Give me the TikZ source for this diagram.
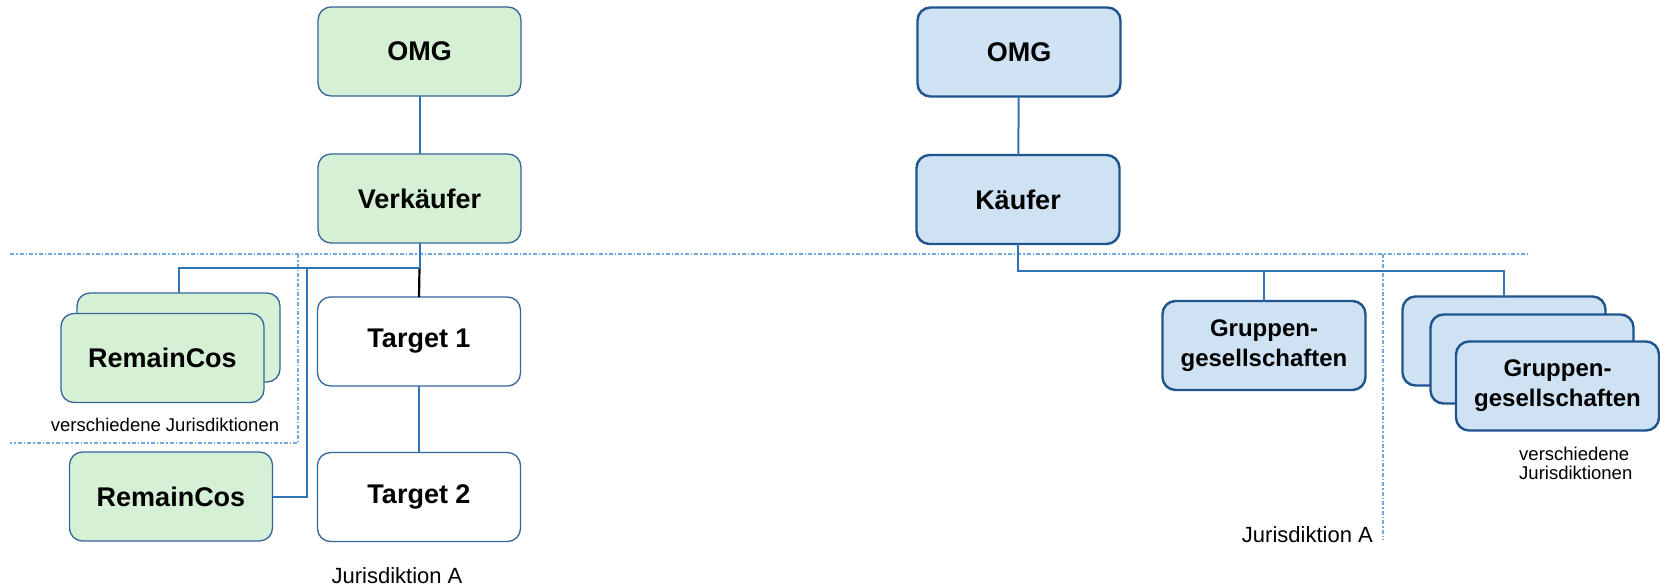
\documentclass[tikz,border=0pt]{standalone}
\usepackage{fontspec}
\setmainfont{Liberation Sans}
\definecolor{greenfill}{RGB}{213,240,213}
\definecolor{greenline}{RGB}{52,101,155}
\definecolor{bluefill}{RGB}{207,226,243}
\definecolor{blueline}{RGB}{31,84,140}
\definecolor{connblue}{RGB}{46,117,182}
\definecolor{zoneblue}{RGB}{111,168,220}
\begin{document}
\begin{tikzpicture}[x=1pt,y=-1pt,
  box/.style={rounded corners=13pt, minimum width=203pt, minimum height=89pt,
    inner sep=0pt, outer sep=0pt, align=center,
    font=\bfseries\fontsize{27}{32}\selectfont},
  greenbox/.style={box, fill=greenfill, draw=greenline, line width=1.3pt},
  whitebox/.style={box, fill=white, draw=greenline, line width=1.3pt},
  bluebox/.style={box, fill=bluefill, draw=blueline, line width=2.4pt},
  groupbox/.style={bluebox, font=\bfseries\fontsize{24}{30}\selectfont},
  conn/.style={draw=connblue, line width=2pt},
  zone/.style={draw=zoneblue, line width=1.2pt,
    dash pattern=on 4pt off 2pt on 1.5pt off 2pt},
  smalltext/.style={inner sep=0pt, font=\fontsize{18.5}{19}\selectfont},
  juritext/.style={inner sep=0pt, font=\fontsize{22}{24}\selectfont}
]
\fill[white] (0,0) rectangle (1660,587);
\useasboundingbox (0,0) rectangle (1660,587);

% jurisdiction boundaries
\draw[zone] (10,254) -- (1530,254);
\draw[zone] (298,254) -- (298,443) -- (10,443);
\draw[zone] (1383,254) -- (1383,540);

% seller side
\node[greenbox] (omgL) at (419.5,51.5) {OMG};
\node[greenbox] (verk) at (419.5,198.5) {Verkäufer};
\node[greenbox] (remB) at (178.5,337.5) {};
\node[greenbox] (remF) at (162.5,358) {RemainCos};
\node[whitebox] (t1) at (419,341.5) {Target 1};
\node[whitebox] (t2) at (419,497) {Target 2};
\node[greenbox] (rem2) at (171,496.5) {RemainCos};

\node[smalltext, anchor=base] (vjL) at (165,431) {verschiedene Jurisdiktionen};
\node[juritext, anchor=base] (jaL) at (397,583) {Jurisdiktion A};

\coordinate (jL) at (verk.south |- 0,268);
\coordinate (jR) at (307,268);
\draw[conn] (omgL) -- (verk);
\draw[line width=2.2pt, black] (jL) -- (t1.north);
\draw[conn] (verk.south) -- (jL) -| (remB.north);
\draw[conn] (jR) |- (rem2.east);
\draw[conn] (t1) -- (t2);

% buyer side
\node[bluebox] (omgR) at (1019,52) {OMG};
\node[bluebox] (kauf) at (1018,199.5) {Käufer};
\node[groupbox] (grp) at (1264,345.5) {Gruppen-\\gesellschaften};
\node[groupbox] (stB) at (1504,341) {};
\node[groupbox] (stM) at (1532,359) {};
\node[groupbox] (stF) at (1557.5,386) {Gruppen-\\gesellschaften};

\node[smalltext, anchor=base west] (vjR1) at (1519,460) {verschiedene};
\node[smalltext, anchor=base west] (vjR2) at (1519,479) {Jurisdiktionen};
\node[juritext, anchor=base east] (jaR) at (1373,542) {Jurisdiktion A};

\coordinate (jK) at (kauf.south |- 0,271);
\draw[conn] (omgR) -- (kauf);
\draw[conn] (kauf.south) -- (jK) -| (grp.north);
\draw[conn] (jK) -| (stB.north);
\end{tikzpicture}
\end{document}
